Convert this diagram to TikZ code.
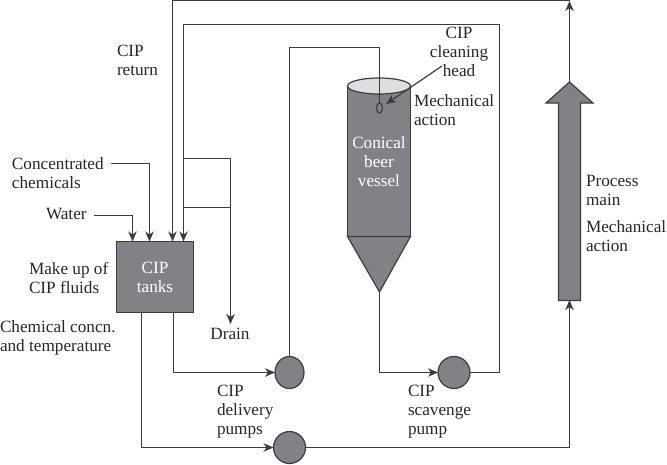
\documentclass[tikz,border=0pt]{standalone}
\usepackage{fontspec}
\setmainfont{Liberation Serif}
\usetikzlibrary{arrows.meta,shapes.geometric}
\definecolor{ink}{HTML}{3C3C3E}
\definecolor{fillgrey}{HTML}{808285}
\definecolor{lidgrey}{HTML}{DDDEDF}
\tikzset{
  x=1pt,y=-1pt,
  every node/.style={font=\fontsize{17.2}{19}\selectfont,inner sep=0pt,outer sep=0pt},
  lbl/.style={align=left,anchor=west,text=black!85},
  lblc/.style={align=center,anchor=center,text=black!85},
  white label/.style={align=center,anchor=center,text=white},
  pipe/.style={draw=ink,line width=1.2pt},
  flow/.style={pipe,-{Stealth[length=10pt,width=8.5pt,inset=3pt]}},
  equip/.style={draw=ink,line width=1.2pt,fill=fillgrey},
  pump/.style={equip,circle,minimum size=32pt},
  narrow pump/.style={equip,ellipse,minimum width=29pt,minimum height=32pt},
}
\begin{document}
\begin{tikzpicture}
\useasboundingbox (0,0) rectangle (667,464);
% equipment
\node[equip,rectangle,minimum width=77pt,minimum height=71pt,white label] (tanks) at (155,277) {CIP\\tanks};
\node[narrow pump] (pumpA) at (289.5,372.5) {};
\node[pump] (pumpB) at (454,372.5) {};
\node[pump] (pumpC) at (289.5,447.5) {};
% vessel
\coordinate (ctl) at (347.5,87);
\coordinate (ctr) at (410.5,87);
\coordinate (cbl) at (347.5,236.5);
\coordinate (cbr) at (410.5,236.5);
\coordinate (tip) at (379.5,292);
\draw[equip] (ctl) -- (cbl) -- (cbr) -- (ctr) -- cycle;
\draw[equip] (cbl) -- (cbr) -- (tip) -- cycle;
\draw[equip,fill=lidgrey] (379,86) ellipse [x radius=31.5,y radius=8];
\node[equip,ellipse,minimum width=6pt,minimum height=10pt,fill=fillgrey] (head) at (379.5,108) {};
\node[white label] (vesselText) at (379,162) {Conical\\beer\\vessel};
% process main
\coordinate (mainTop) at (569.5,82);
\coordinate (mainBottom) at (569.5,300);
\draw[equip] (558.5,300.5) -- (558.5,103) -- (546,103) -- (mainTop) -- (593,103) -- (580.5,103) -- (580.5,300.5) -- cycle;
% free ends
\coordinate (conc) at (111,163.5);
\coordinate (water) at (94,215.5);
\coordinate (drainEnd) at (230.5,324);
\coordinate (headFrom) at (442,66);
\coordinate (headTo) at (386,104);
\coordinate (inConc) at (149.5,241.5);
\coordinate (inWater) at (132.5,241.5);
\coordinate (inMain) at (172.5,241.5);
\coordinate (inReturn) at (183.5,241.5);
\coordinate (outDelivery) at (173.5,312.5);
\coordinate (outProcess) at (141.5,312.5);
% connectors
\draw[flow] (conc) -| (inConc);
\draw[flow] (water) -| (inWater);
\draw[flow] (mainTop) -- (569.5,1);
\draw[flow] (569.5,0.6) -- (172.5,0.6) -- (inMain);
\draw[flow] (pumpB.east) -- (499.5,372.5) -- (499.5,24.5) -- (183.5,24.5) -- (inReturn);
\draw[pipe] (183.5,158.5) -- (230.5,158.5) -- (230.5,207.5);
\draw[flow] (183.5,207.5) -- (230.5,207.5) -- (drainEnd);
\draw[pipe] (pumpA.north) -- (289.5,47.5) -- (379.5,47.5) -- (head.north);
\draw[flow] (outDelivery) -- (173.5,372.5) -- (pumpA.west);
\draw[flow] (outProcess) -- (141.5,447.5) -- (pumpC.west);
\draw[flow] (pumpC.east) -- (569.5,447.5) -- (mainBottom);
\draw[flow] (tip) -- (379.5,372.5) -- (pumpB.west);
\draw[flow] (headFrom) -- (headTo);
% labels
\node[lbl] (lReturn) at (117,60) {CIP\\return};
\node[lbl] (lConc) at (12,173) {Concentrated\\chemicals};
\node[lbl] (lWater) at (46,214) {Water};
\node[lbl] (lMake) at (29,278) {Make up of\\CIP fluids};
\node[lbl] (lChem) at (0,338) {Chemical concn.\\and temperature};
\node[lblc] (lDrain) at (230,334) {Drain};
\node[lbl] (lDeliv) at (217,412) {CIP\\delivery\\pumps};
\node[lbl] (lScav) at (408,412) {CIP\\scavenge\\pump};
\node[lblc] (lHead) at (459,52) {CIP\\cleaning\\head};
\node[lbl] (lMech) at (414,110) {Mechanical\\action};
\node[lbl] (lProc) at (586,190) {Process\\main};
\node[lbl] (lMech2) at (586,236) {Mechanical\\action};
\end{tikzpicture}
\end{document}
